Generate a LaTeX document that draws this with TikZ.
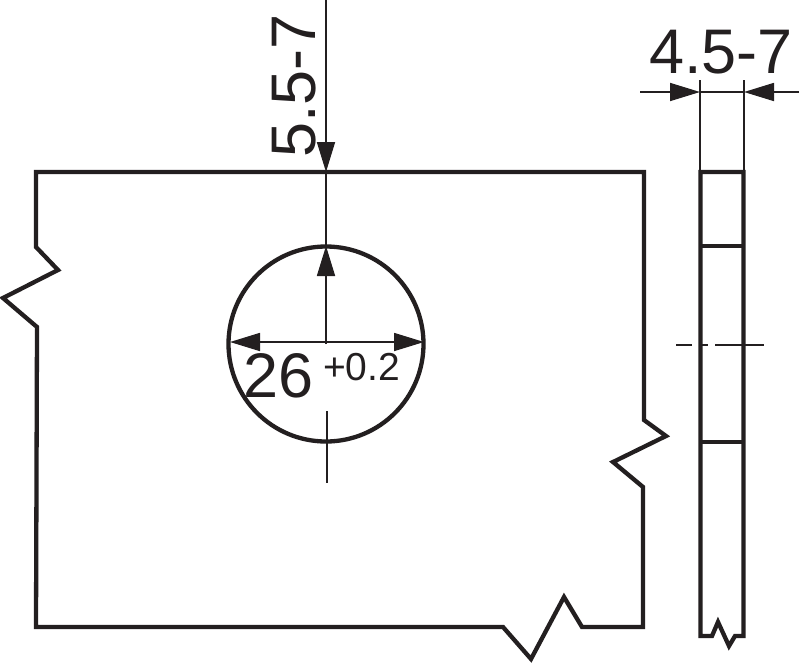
\documentclass[tikz,border=0pt]{standalone}
\usepackage{fontspec}
\setmainfont{Liberation Sans}
\usetikzlibrary{arrows.meta}
\definecolor{ink}{HTML}{231F20}
\tikzset{
  outline/.style={draw=ink,line width=4.3pt,line join=miter},
  thin line/.style={draw=ink,line width=1.7pt},
  dim arrow/.style={thin line,-{Triangle[length=30pt,width=18pt,fill=ink]}},
  big label/.style={inner sep=0pt,text=ink,font=\fontsize{63}{63}\selectfont},
  small label/.style={inner sep=0pt,text=ink,font=\fontsize{39}{39}\selectfont},
}
\begin{document}
\begin{tikzpicture}[x=1pt,y=-1pt]
\useasboundingbox (0,0) rectangle (800,662);
\fill[white] (0,0) rectangle (800,662);
% plate
\draw[outline] (36,172) -- (644,172) -- (644,420) -- (666,436) -- (613,462) -- (643,487) -- (643,627)
  -- (582,627) -- (564,597) -- (531,659) -- (503,627) -- (36,627) -- (37,327) -- (3,298) -- (58,270) -- (36,247) -- cycle;
% hole
\node[draw=ink,line width=4.3pt,circle,minimum size=195pt,inner sep=0pt] (hole) at (326,344) {};
% named points
\coordinate (topfree) at (326,0);
\coordinate (edge) at (326,172);
\coordinate (holetop) at (326,246);
\coordinate (holecentre) at (326,344);
\coordinate (holeleft) at (230,342);
\coordinate (holeright) at (424,342);
\coordinate (mid) at (326,342);
\coordinate (axisa) at (327,411);
\coordinate (axisb) at (327,483);
% dimensions on plate
\draw[dim arrow] (topfree) -- (edge);
\draw[thin line] (edge) -- (holetop);
\draw[dim arrow] (holecentre) -- (holetop);
\draw[dim arrow] (mid) -- (holeleft);
\draw[dim arrow] (mid) -- (holeright);
\draw[thin line] (axisa) -- (axisb);
% side view
\draw[outline] (718,622) -- (712,636) -- (700.5,636) -- (700.5,172) -- (743.5,172) -- (743.5,636) -- (735,636) -- (729,646) -- cycle;
\coordinate (band1l) at (700.5,246);
\coordinate (band1r) at (743.5,246);
\coordinate (band2l) at (700.5,442);
\coordinate (band2r) at (743.5,442);
\draw[outline] (band1l) -- (band1r);
\draw[outline] (band2l) -- (band2r);
\coordinate (extl) at (700,80);
\coordinate (extr) at (744,80);
\coordinate (extlb) at (700,172);
\coordinate (extrb) at (744,172);
\draw[thin line] (extl) -- (extlb);
\draw[thin line] (extr) -- (extrb);
\coordinate (dl) at (640,92);
\coordinate (dla) at (700,92);
\coordinate (dr) at (799,92);
\coordinate (dra) at (744,92);
\draw[thin line] (dla) -- (dra);
\draw[dim arrow] (dl) -- (dla);
\draw[dim arrow] (dr) -- (dra);
% centre line of side view
\coordinate (c1) at (676,345);
\coordinate (c2) at (764,345);
\draw[thin line,dash pattern=on 16pt off 8pt on 8pt off 7pt on 49pt] (c1) -- (c2);
% labels
\node[big label,anchor=base west] (l26) at (243,397) {26};
\node[small label,anchor=base west] (l02) at (323,380) {+0.2};
\node[big label,anchor=base west] (l45) at (649,73) {4.5-7};
\node[big label,anchor=base west,rotate=90] (l55) at (315.5,158) {5.5-7};
\end{tikzpicture}
\end{document}
